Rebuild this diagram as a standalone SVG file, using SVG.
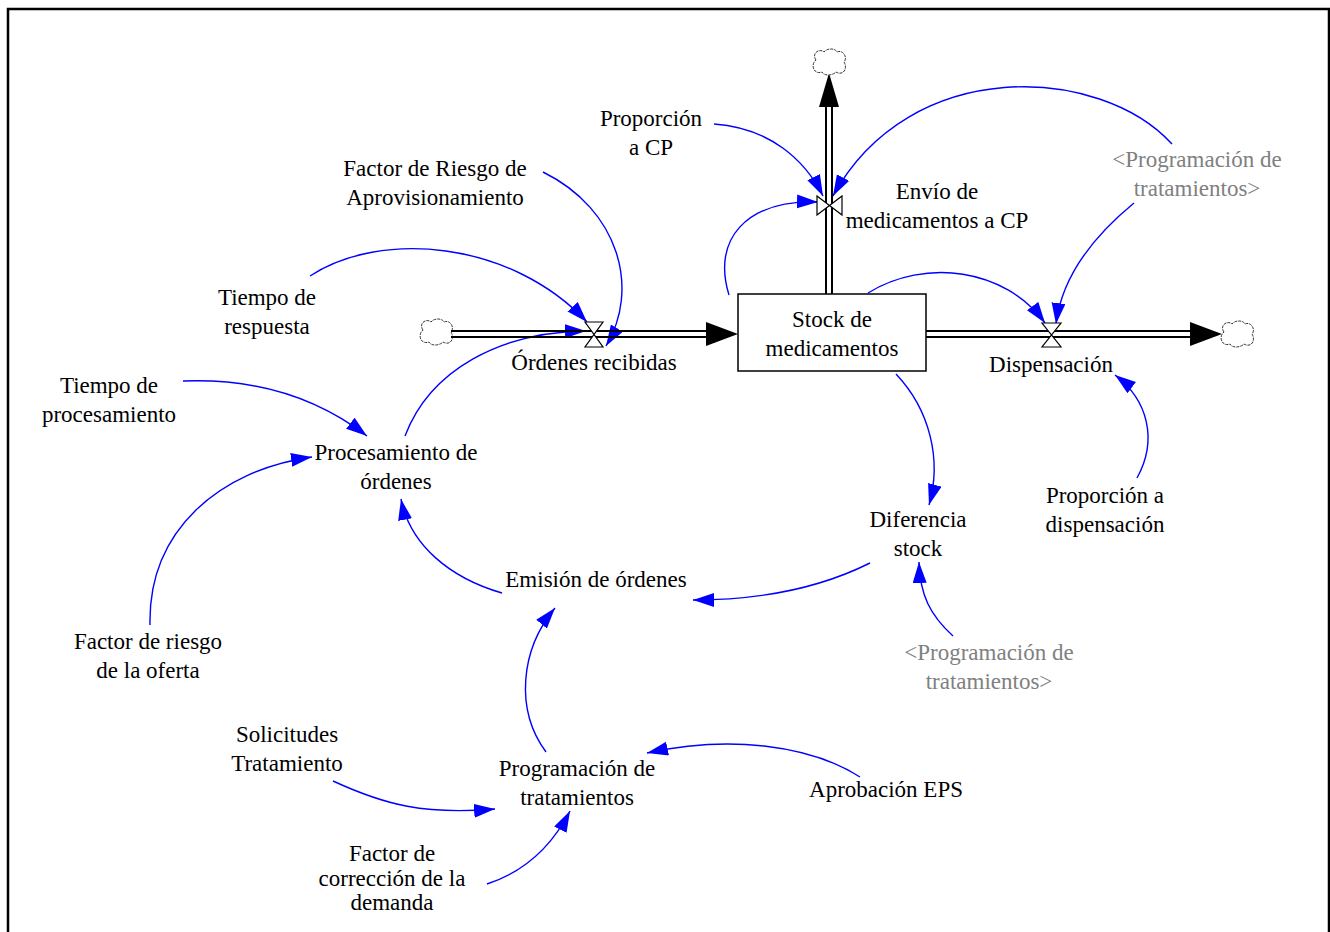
<svg xmlns="http://www.w3.org/2000/svg" xmlns:xlink="http://www.w3.org/1999/xlink" width="1330" height="932" viewBox="0 0 1330 932">
<style>
text{font-family:"Liberation Serif","Times New Roman",serif;font-size:23px;fill:#000;text-anchor:middle}
text.shadow{fill:#808080}
.link{fill:none;stroke:#0000ff;stroke-width:1.4;marker-end:url(#ah)}
.pipe{stroke:#000;stroke-width:2;fill:none}
.valve{fill:#fff;stroke:#000;stroke-width:1.2}
.cloud{fill:#fff;stroke:#333;stroke-width:1;stroke-dasharray:3 1}
.head{fill:#000}
</style>
<defs>
<marker id="ah" markerUnits="userSpaceOnUse" markerWidth="24" markerHeight="16" refX="21" refY="7" orient="auto">
<path d="M0,0 L21,7 L0,14 Z" fill="#0000ff"/>
</marker>
<path id="cloudShape" d="M-13,-3 C-18,-10 -9,-15 -5,-11 C-2,-15 6,-15 8,-11 C14,-14 19,-5 15,-1 C19,6 14,13 7,9 C3,13 -5,13 -7,9 C-15,12 -19,2 -13,-3 Z"/>
</defs>
<rect x="8" y="9" width="1321" height="940" fill="none" stroke="#000" stroke-width="2.5"/>

<g id="connectors">
<path class="link" d="M714,124 C770,128 805,160 823,196"/>
<path class="link" d="M1172,144 C1100,65 910,55 833,196"/>
<path class="link" d="M729,295 C712,240 745,200 818,202"/>
<path class="link" d="M868,293 C925,258 1005,268 1045,323"/>
<path class="link" d="M1134,203 C1095,235 1062,275 1056,324"/>
<path class="link" d="M1137,478 C1158,440 1148,400 1115,375"/>
<path class="link" d="M896,374 C930,410 942,460 929,505"/>
<path class="link" d="M953,636 C930,615 920,595 919,562"/>
<path class="link" d="M870,563 C820,588 760,600 693,600"/>
<path class="link" d="M502,593 C450,578 410,545 401,499"/>
<path class="link" d="M405,436 C430,370 500,332 586,331"/>
<path class="link" d="M310,276 C380,230 510,240 587,322"/>
<path class="link" d="M543,172 C620,210 640,290 606,346"/>
<path class="link" d="M183,381 C260,378 320,400 367,436"/>
<path class="link" d="M150,625 C148,530 220,470 312,457"/>
<path class="link" d="M546,752 C515,710 520,650 555,608"/>
<path class="link" d="M860,777 C810,745 730,735 647,753"/>
<path class="link" d="M333,781 C385,805 425,815 495,809"/>
<path class="link" d="M487,884 C530,870 555,840 570,811"/>
</g>

<g id="flow-ordenes">
<use xlink:href="#cloudShape" class="cloud" transform="translate(436,333)"/>
<line class="pipe" x1="451" y1="331" x2="710" y2="331"/>
<line class="pipe" x1="451" y1="337" x2="710" y2="337"/>
<polygon class="head" points="706,322 738,334 706,346"/>
<path class="valve" d="M585,322 L603,322 L585,347 L603,347 Z"/>
<text x="594" y="370">Órdenes recibidas</text>
</g>

<g id="flow-dispensacion">
<line class="pipe" x1="926" y1="331" x2="1194" y2="331"/>
<line class="pipe" x1="926" y1="337" x2="1194" y2="337"/>
<polygon class="head" points="1190,322 1222,334 1190,346"/>
<use xlink:href="#cloudShape" class="cloud" transform="translate(1237,335)"/>
<path class="valve" d="M1042,323 L1061,323 L1042,347 L1061,347 Z"/>
<text x="1051" y="372">Dispensación</text>
</g>

<g id="flow-envio">
<line class="pipe" x1="826" y1="294" x2="826" y2="104"/>
<line class="pipe" x1="832" y1="294" x2="832" y2="104"/>
<polygon class="head" points="819,107 829,73 839,107"/>
<use xlink:href="#cloudShape" class="cloud" transform="translate(829,63)"/>
<path class="valve" d="M817,196 L842,215 L842,196 L817,215 Z"/>
<text x="937" y="199">Envío de</text>
<text x="937" y="228">medicamentos a CP</text>
</g>

<g id="stock">
<rect x="738" y="294" width="188" height="77" fill="#fff" stroke="#000" stroke-width="1.5"/>
<text x="832" y="327">Stock de</text>
<text x="832" y="356">medicamentos</text>
</g>

<g id="proporcion-cp"><text x="651" y="126">Proporción</text><text x="651" y="155">a CP</text></g>
<g id="factor-riesgo-aprov"><text x="435" y="176">Factor de Riesgo de</text><text x="435" y="205">Aprovisionamiento</text></g>
<g id="tiempo-respuesta"><text x="267" y="305">Tiempo de</text><text x="267" y="334">respuesta</text></g>
<g id="tiempo-procesamiento"><text x="109" y="393">Tiempo de</text><text x="109" y="422">procesamiento</text></g>
<g id="procesamiento-ordenes"><text x="396" y="460">Procesamiento de</text><text x="396" y="489">órdenes</text></g>
<g id="emision-ordenes"><text x="596" y="587">Emisión de órdenes</text></g>
<g id="factor-riesgo-oferta"><text x="148" y="649">Factor de riesgo</text><text x="148" y="678">de la oferta</text></g>
<g id="solicitudes"><text x="287" y="742">Solicitudes</text><text x="287" y="771">Tratamiento</text></g>
<g id="programacion"><text x="577" y="776">Programación de</text><text x="577" y="805">tratamientos</text></g>
<g id="aprobacion"><text x="886" y="797">Aprobación EPS</text></g>
<g id="factor-correccion"><text x="392" y="861">Factor de</text><text x="392" y="886">corrección de la</text><text x="392" y="910">demanda</text></g>
<g id="diferencia-stock"><text x="918" y="527">Diferencia</text><text x="918" y="556">stock</text></g>
<g id="prog-shadow-1"><text class="shadow" x="989" y="660">&lt;Programación de</text><text class="shadow" x="989" y="689">tratamientos&gt;</text></g>
<g id="proporcion-disp"><text x="1105" y="503">Proporción a</text><text x="1105" y="532">dispensación</text></g>
<g id="prog-shadow-2"><text class="shadow" x="1197" y="167">&lt;Programación de</text><text class="shadow" x="1197" y="196">tratamientos&gt;</text></g>
</svg>
